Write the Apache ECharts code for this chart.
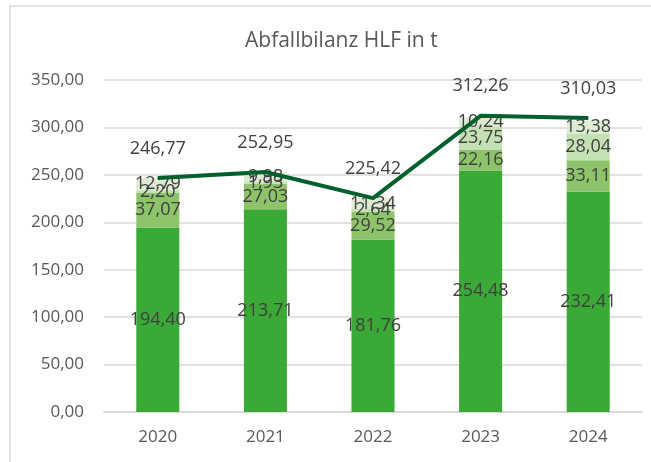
<!DOCTYPE html>
<html>
<head>
<meta charset="utf-8">
<script src="https://cdn.jsdelivr.net/npm/echarts@6/dist/echarts.min.js"></script>
<style>
  html, body { margin: 0; padding: 0; background: #fff; }
  #chart { width: 651px; height: 462px; }
</style>
</head>
<body>
<div id="chart"></div>
<script>
  // Werte
  var years = ['2020', '2021', '2022', '2023', '2024'];
  var part1 = [194.40, 213.71, 181.76, 254.48, 232.41];
  var part2 = [37.07, 27.03, 29.52, 22.16, 33.11];
  var part3 = [2.20, 1.93, 2.64, 23.75, 28.04];
  var part4 = [12.79, 9.98, 11.34, 10.24, 13.38];
  var totals = [246.77, 252.95, 225.42, 312.26, 310.03];

  var fmt = function (p) { return p.value.toFixed(2).replace('.', ','); };
  var font = '"Open Sans", "Noto Sans", sans-serif';

  function barSeries(name, data, color) {
    return {
      name: name,
      type: 'bar',
      stack: 'sum',
      data: data,
      barWidth: '40%',
      itemStyle: { color: color },
      label: {
        show: true,
        position: 'inside',
        formatter: fmt,
        color: '#404040',
        fontSize: 18,
        fontFamily: font
      }
    };
  }

  var chart = echarts.init(document.getElementById('chart'));
  chart.setOption({
    animation: false,
    title: {
      text: 'Abfallbilanz HLF in t',
      left: 240,
      top: 26,
      textStyle: { color: '#595959', fontSize: 21, fontWeight: 'normal', fontFamily: font }
    },
    graphic: [{
      type: 'rect',
      shape: { x: 10, y: 6, width: 700, height: 500 },
      style: { fill: 'none', stroke: '#d9d9d9', lineWidth: 1.5 },
      silent: true
    }],
    grid: { left: 104, right: 9, top: 80, bottom: 50 },
    xAxis: {
      type: 'category',
      data: years,
      axisLine: { lineStyle: { color: '#d9d9d9', width: 2 } },
      axisTick: { show: false },
      axisLabel: { color: '#595959', fontSize: 17, fontFamily: font, margin: 17 }
    },
    yAxis: {
      type: 'value',
      min: 0,
      max: 350,
      interval: 50,
      axisLine: { show: false },
      axisTick: { show: false },
      splitLine: { lineStyle: { color: '#d9d9d9', width: 1.5 } },
      axisLabel: {
        color: '#595959', fontSize: 17, fontFamily: font, margin: 20,
        formatter: function (v) { return v.toFixed(2).replace('.', ','); }
      }
    },
    series: [
      barSeries('Teil 1', part1, '#3aa935'),
      barSeries('Teil 2', part2, '#8dc46a'),
      barSeries('Teil 3', part3, '#c5e0b4'),
      barSeries('Teil 4', part4, '#dcebd2'),
      {
        name: 'Summe',
        type: 'line',
        data: totals,
        symbol: 'circle',
        symbolSize: 1,
        showSymbol: true,
        z: 5,
        itemStyle: { color: '#00602b' },
        lineStyle: { color: '#00602b', width: 4 },
        label: {
          show: true,
          position: 'top',
          distance: 20,
          formatter: fmt,
          color: '#404040',
          fontSize: 18,
          fontFamily: font
        }
      }
    ]
  });
</script>
</body>
</html>
